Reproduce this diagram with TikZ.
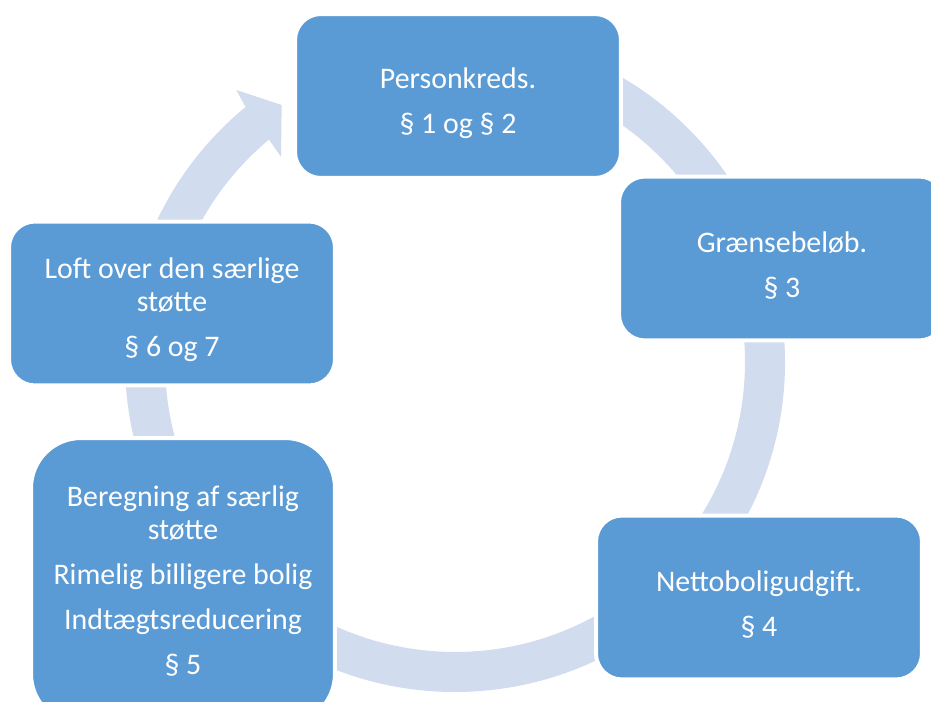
\documentclass[tikz,border=0pt]{standalone}
\usepackage{fontspec}
\setmainfont{Carlito}
\usetikzlibrary{positioning,calc}
\definecolor{boxblue}{RGB}{91,155,213}
\definecolor{ringblue}{RGB}{209,220,238}
\tikzset{
  stepbox/.style={fill=boxblue, draw=white, line width=0.08cm, rounded corners=0.52cm,
    minimum width=6.52cm, minimum height=3.28cm, inner sep=0pt, text width=5.4cm,
    align=flush center, text=white, font=\fontsize{17}{18.8}\selectfont},
  bigbox/.style={stepbox, minimum width=6.08cm, minimum height=5.72cm, rounded corners=1cm},
  textdrop/.style={execute at begin node={\rule{0pt}{#1}}}
}

\begin{document}
\begin{tikzpicture}[x=0.02cm, y=-0.02cm]
  \useasboundingbox (0,0) rectangle (931,702);
  \coordinate (c) at (455,362);
  % cycle arrow behind the boxes
  \fill[ringblue] ($(c)+(265:330)$) arc[start angle=265, end angle=590.6, radius=330]
    -- ($(c)+(591.2:349)$) -- ($(c)+(596:310)$) -- ($(c)+(589.7:269)$)
    -- ($(c)+(590.1:290)$) arc[start angle=590.1, end angle=265, radius=290] -- cycle;
  % steps
  \node[stepbox, textdrop=0.7cm] (pers) at (458,96) {Personkreds.\\[6.8pt]§ 1 og § 2};
  \node[stepbox, textdrop=0.7cm] (graens) at (782,258.5) {Grænsebeløb.\\[6.8pt]§ 3};
  \node[stepbox, textdrop=0.7cm] (netto) at (759,597.5) {Nettoboligudgift.\\[6.8pt]§ 4};
  \node[bigbox] (beregn) at (183,581) {Beregning af særlig støtte\\[6.8pt]Rimelig billigere bolig\\[6.8pt]Indtægtsreducering\\[6.8pt]§ 5};
  \node[stepbox, textdrop=0.66cm] (loft) at (172,303.5) {Loft over den særlige støtte\\[6.8pt]§ 6 og 7};
\end{tikzpicture}
\end{document}
